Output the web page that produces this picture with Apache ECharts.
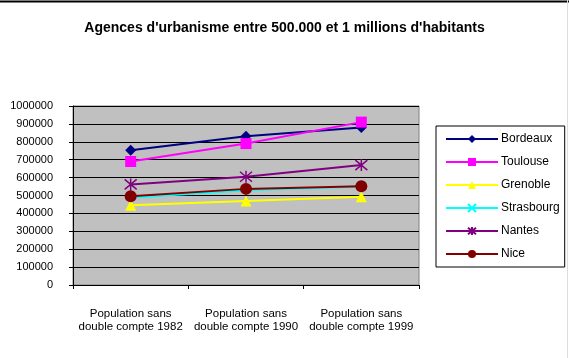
<!DOCTYPE html>
<html><head><meta charset="utf-8">
<script src="https://cdn.jsdelivr.net/npm/echarts@6/dist/echarts.min.js"></script>
<style>html,body{margin:0;padding:0;background:#fff}#c{width:569px;height:358px}</style>
</head><body><div id="c"></div>
<script>
var titleText = "Agences d'urbanisme entre 500.000 et 1 millions d'habitants";
var categories = ["Population sans\ndouble compte 1982", "Population sans\ndouble compte 1990", "Population sans\ndouble compte 1999"];
var bordeaux   = [753000, 831000, 880000];
var toulouse   = [690000, 790000, 910000];
var grenoble   = [446000, 469000, 493000];
var strasbourg = [488000, 530000, 550000];
var nantes     = [562000, 605000, 670000];
var nice       = [496000, 537000, 552000];
var yTicks = [0, 100000, 200000, 300000, 400000, 500000, 600000, 700000, 800000, 900000, 1000000];

var F = "'Liberation Sans', Arial, sans-serif";
var asterisk = "path://M-5,-5L5,5M5,-5L-5,5M0,-6L0,6";
var xmark = "path://M-5,-5L5,5M5,-5L-5,5";

function s(name, data, color, symbol, size, extra) {
  var o = {
    name: name, type: 'line', data: data, symbol: symbol, symbolSize: size,
    lineStyle: {color: color, width: 2},
    itemStyle: {color: color, borderColor: color, borderWidth: 0},
    emphasis: {disabled: true}, animation: false
  };
  if (extra) o.itemStyle = extra;
  return o;
}

var chart = echarts.init(document.getElementById('c'), null, {renderer: 'canvas'});
chart.setOption({
  animation: false,
  backgroundColor: '#fff',
  title: {text: titleText, left: 'center', top: 16, textStyle: {fontFamily: F, fontSize: 14, fontWeight: 'bold', color: '#000'}},
  graphic: [
    {type: 'line', shape: {x1: 0, y1: 1.5, x2: 569, y2: 1.5}, style: {stroke: '#000', lineWidth: 2}},
    {type: 'line', shape: {x1: 567.5, y1: 0, x2: 567.5, y2: 358}, style: {stroke: '#ddd', lineWidth: 1}}
  ],
  grid: {left: 73, right: 150, top: 106, bottom: 73, show: true, backgroundColor: '#c0c0c0', borderColor: '#808080', borderWidth: 1},
  legend: {
    orient: 'vertical', left: 436, top: 126,
    padding: [7, 5, 7, 9], itemWidth: 52, itemHeight: 10, itemGap: 11,
    borderColor: '#000', borderWidth: 1, backgroundColor: '#fff',
    textStyle: {fontFamily: F, fontSize: 12, color: '#000', padding: [0,0,0,-2]},
    data: ['Bordeaux', 'Toulouse', 'Grenoble', 'Strasbourg', 'Nantes', 'Nice']
  },
  xAxis: {
    type: 'category', data: categories, boundaryGap: true,
    axisLine: {lineStyle: {color: '#000', width: 1}},
    axisTick: {show: true, length: 4, lineStyle: {color: '#000'}},
    axisLabel: {fontFamily: F, fontSize: 11.5, color: '#000', margin: 22, lineHeight: 13, interval: 0},
    splitLine: {show: false}
  },
  yAxis: {
    type: 'value', min: yTicks[0], max: yTicks[yTicks.length - 1], interval: yTicks[1] - yTicks[0],
    axisLine: {show: true, lineStyle: {color: '#000', width: 1}},
    axisTick: {show: true, length: 4, lineStyle: {color: '#000'}},
    axisLabel: {fontFamily: F, fontSize: 11, color: '#000', margin: 20, formatter: function (v) { return String(v); }},
    splitLine: {show: true, lineStyle: {color: '#000', width: 1}}
  },
  series: [
    s('Bordeaux', bordeaux, '#000080', 'diamond', 11),
    s('Toulouse', toulouse, '#ff00ff', 'rect', 11),
    s('Grenoble', grenoble, '#ffff00', 'triangle', 11),
    s('Strasbourg', strasbourg, '#00ffff', xmark, 6, {color: 'rgba(0,0,0,0)', borderColor: '#00ffff', borderWidth: 1.5}),
    s('Nantes', nantes, '#800080', asterisk, 12, {color: 'rgba(0,0,0,0)', borderColor: '#800080', borderWidth: 1.5}),
    s('Nice', nice, '#800000', 'circle', 12)
  ]
});
</script></body></html>
